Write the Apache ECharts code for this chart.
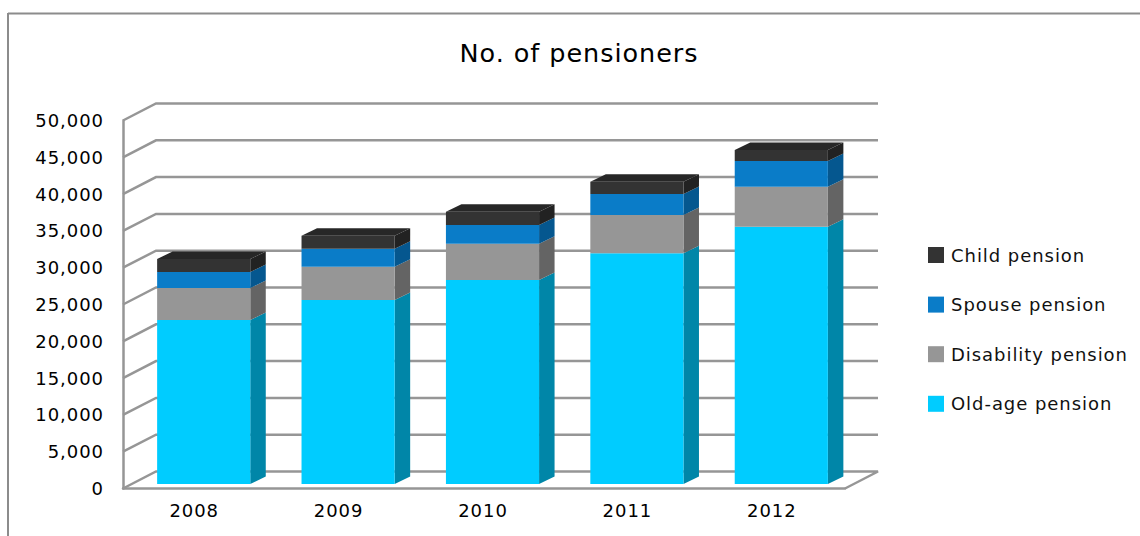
<!DOCTYPE html>
<html>
<head>
<meta charset="utf-8">
<title>No. of pensioners</title>
<script src="https://cdn.jsdelivr.net/npm/echarts@6/dist/echarts.min.js"></script>
<style>
  html, body { margin: 0; padding: 0; background: #fff; }
  #chart { width: 1140px; height: 536px; }
  #chart svg text { letter-spacing: 0.95px; }
</style>
</head>
<body>
<div id="chart"></div>
<script>
// Pensioner counts per year, one array per pension type
const years = ['2008', '2009', '2010', '2011', '2012'];
const oldAge = [22280, 25000, 27720, 31350, 34960];
const disability = [4350, 4520, 4930, 5200, 5430];
const spouse = [2170, 2450, 2540, 2850, 3500];
const child = [1770, 1770, 1810, 1680, 1490];
const axisTicks = [0, 5000, 10000, 15000, 20000, 25000, 30000, 35000, 40000, 45000, 50000];

const FONT = '"DejaVu Sans", sans-serif';
const WALL = '#969696';

// Projection of the pseudo-3D box: wall depth, bar inset and bar depth in pixels
const wallDx = 33, wallDy = -17;
const barShiftX = 8.5, barShiftY = -4.5;
const barDx = 15.5, barDy = -7.5;
const barRatio = 0.645;

const stacks = [
  { name: 'Old-age pension', values: oldAge, front: '#00CCFF', side: '#0086A8', top: '#00A0C8' },
  { name: 'Disability pension', values: disability, front: '#969696', side: '#646464', top: '#7a7a7a' },
  { name: 'Spouse pension', values: spouse, front: '#0A7CC8', side: '#05578F', top: '#06639f' },
  { name: 'Child pension', values: child, front: '#333333', side: '#222222', top: '#272727' }
];

// Slanted side wall, back wall and floor edge for one axis tick
function renderWall(params, api) {
  const v = api.value(1);
  const cs = params.coordSys;
  const y = api.coord([0, v])[1];
  const x0 = cs.x, x1 = cs.x + cs.width;
  const pts = [[x0, y], [x0 + wallDx, y + wallDy], [x1 + wallDx, y + wallDy]];
  if (v === 0) pts.push([x1, y]);
  return {
    type: 'polyline',
    shape: { points: pts },
    style: { fill: null, stroke: WALL, lineWidth: 2.5 },
    silent: true
  };
}

// One stack segment: front face, right side, and a lid on the topmost segment
function makeBarRenderer(cfg, isTop) {
  return function (params, api) {
    const i = api.value(0);
    const low = api.coord([i, api.value(1)]);
    const high = api.coord([i, api.value(2)]);
    const w = api.size([1, 0])[0] * barRatio;
    const l = low[0] + barShiftX - w / 2, r = l + w;
    const yb = low[1] + barShiftY, yt = high[1] + barShiftY;
    const children = [
      {
        type: 'polygon',
        shape: { points: [[r, yb], [r + barDx, yb + barDy], [r + barDx, yt + barDy], [r, yt]] },
        style: { fill: cfg.side }
      },
      {
        type: 'rect',
        shape: { x: l, y: yt, width: w, height: yb - yt },
        style: { fill: cfg.front }
      }
    ];
    if (isTop) {
      children.push({
        type: 'polygon',
        shape: { points: [[l, yt], [l + barDx, yt + barDy], [r + barDx, yt + barDy], [r, yt]] },
        style: { fill: cfg.top }
      });
    }
    return { type: 'group', children };
  };
}

const running = years.map(() => 0);
const barSeries = stacks.map((cfg, s) => {
  const data = cfg.values.map((v, i) => {
    const item = [i, running[i], running[i] + v];
    running[i] += v;
    return item;
  });
  return {
    type: 'custom',
    name: cfg.name,
    coordinateSystem: 'cartesian2d',
    clip: false,
    z: 3 + s,
    itemStyle: { color: cfg.front },
    encode: { x: 0, y: [1, 2] },
    renderItem: makeBarRenderer(cfg, s === stacks.length - 1),
    data
  };
});

const wallSeries = {
  type: 'custom',
  name: 'walls',
  coordinateSystem: 'cartesian2d',
  clip: false,
  silent: true,
  z: 1,
  encode: { x: 0, y: 1 },
  renderItem: renderWall,
  data: axisTicks.map(t => [0, t])
};

const chart = echarts.init(document.getElementById('chart'), null, { renderer: 'svg' });
chart.setOption({
  animation: false,
  backgroundColor: '#fff',
  title: {
    text: 'No. of pensioners',
    left: 579,
    top: 40,
    padding: 0,
    textAlign: 'center',
    textStyle: { fontFamily: FONT, fontSize: 25.5, fontWeight: 'normal', color: '#000' }
  },
  legend: {
    orient: 'vertical',
    left: 923,
    top: 241,
    padding: 5,
    itemWidth: 16,
    itemHeight: 16,
    itemGap: 31.6,
    icon: 'rect',
    data: stacks.map(s => s.name).reverse(),
    textStyle: { fontFamily: FONT, fontSize: 18, color: '#111', padding: [0, 0, 0, 2] }
  },
  grid: { left: 123, top: 120.5, width: 722, height: 368 },
  xAxis: {
    type: 'category',
    data: years,
    boundaryGap: true,
    axisLine: { show: true, lineStyle: { color: WALL, width: 2.5 } },
    axisTick: { show: false },
    axisLabel: { fontFamily: FONT, fontSize: 18, color: '#000', margin: 13, padding: [0, 2, 0, 0] }
  },
  yAxis: {
    type: 'value',
    min: 0,
    max: 50000,
    interval: 5000,
    splitLine: { show: false },
    axisLine: { show: true, lineStyle: { color: WALL, width: 2.5 } },
    axisTick: { show: false },
    axisLabel: {
      fontFamily: FONT,
      fontSize: 18,
      color: '#000',
      margin: 19,
      formatter: v => v.toLocaleString('en-US')
    }
  },
  // Outer frame: the chart area only shows its top and left edges
  graphic: [
    { type: 'line', silent: true, shape: { x1: 8, y1: 13.5, x2: 1140, y2: 13.5 }, style: { stroke: '#8c8c8c', lineWidth: 2 } },
    { type: 'line', silent: true, shape: { x1: 8, y1: 13, x2: 8, y2: 536 }, style: { stroke: '#8c8c8c', lineWidth: 2 } }
  ],
  series: [wallSeries].concat(barSeries)
});
</script>
</body>
</html>
